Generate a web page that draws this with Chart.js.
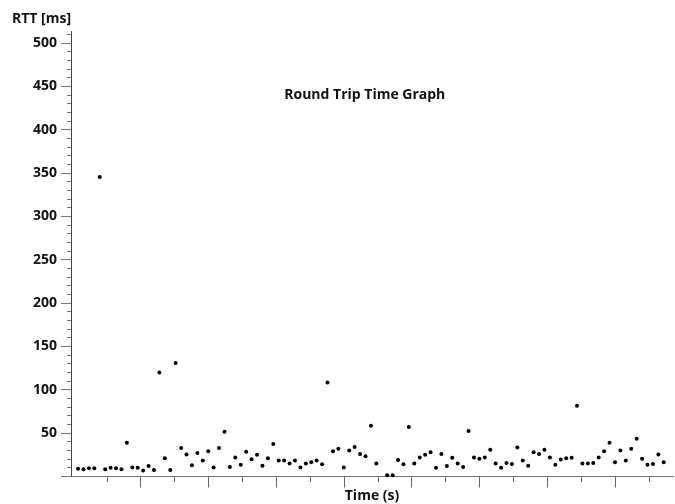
<!DOCTYPE html>
<html lang="en">
<head>
    <meta charset="UTF-8">
    <title>Round Trip Time Graph</title>
    <script src="https://cdn.jsdelivr.net/npm/chart.js@4.4.0/dist/chart.umd.min.js"></script>
    <style>
        html, body { margin: 0; padding: 0; background: #fff; }
        .chart-box { width: 675px; height: 504px; position: relative; }
    </style>
</head>
<body>
<div class="chart-box">
    <canvas id="rttChart"></canvas>
</div>

<script>
// RTT samples in ms, one per probe (null = no reply)
const rttValues = [
    9, 8.5, 9.5, 9.5, 345.5, 8.5, 10, 9.5, 8.5, 39,
    10.5, 10, 7, 12, 7.5, 120, 21, 7.5, 131, 33,
    25.5, 13, 27, 18.5, 29, 10.5, 33, 51.5, 11, 22,
    13.5, 28.5, 20, 25, 12.5, 21, 37.5, 18.5, 18.5, 15,
    18.5, 10.5, 15, 16.5, 18.5, 14, 108.5, 29, 32, 10.5,
    30, 34, 26, 23.5, 58.5, 15, null, 1.5, 1.5, 19,
    14, 57, 15, 22, 25, 28, 10, 26, 12, 21.5,
    15, 11, 52.5, 22, 20.5, 22, 31, 15, 10, 15.5,
    14.5, 33.5, 18.5, 12.5, 28, 26, 31, 22, 13.5, 19.5,
    21, 21.5, 81.5, 15, 15, 15.5, 22, 29, 39, 16.5,
    30, 18.5, 32, 43.5, 20.5, 13.5, 14.5, 25.5, 16.5
];

// unlabeled time ticks (in sample units), short and long alternate
const xTickValues = [5.34, 11.59, 17.84, 24.08, 30.33, 36.58, 42.83, 49.08, 55.32,
    61.57, 67.82, 74.07, 80.32, 86.56, 92.81, 99.06, 105.31];
const yLabelEvery = 50;

const points = rttValues.map((v, i) => ({ x: i, y: v }));
const fontFamily = "'Open Sans', 'DejaVu Sans', sans-serif";

// title drawn inside the plot area
const innerTitle = {
    id: 'innerTitle',
    afterDraw(chart) {
        const { ctx, chartArea } = chart;
        ctx.save();
        ctx.font = "bold 14px " + fontFamily;
        ctx.fillStyle = '#111';
        ctx.textAlign = 'center';
        ctx.textBaseline = 'middle';
        ctx.fillText('Round Trip Time Graph', chartArea.left + chartArea.width * 0.488, chartArea.top + 63);
        ctx.restore();
    }
};

new Chart(document.getElementById('rttChart'), {
    type: 'scatter',
    data: {
        datasets: [{
            label: 'RTT',
            data: points,
            pointRadius: 2,
            pointHoverRadius: 2,
            pointBackgroundColor: '#000',
            pointBorderWidth: 0,
            showLine: false,
            clip: false
        }]
    },
    options: {
        responsive: true,
        maintainAspectRatio: false,
        animation: false,
        layout: { padding: { left: 12, right: 1, top: 0, bottom: 0 } },
        plugins: {
            legend: { display: false },
            tooltip: { enabled: false },
            title: {
                display: true,
                text: 'RTT [ms]',
                align: 'start',
                color: '#111',
                font: { family: fontFamily, size: 14, weight: 'bold' },
                padding: { top: 11, bottom: 4 }
            }
        },
        scales: {
            x: {
                type: 'linear',
                min: -1.3,
                max: 109.7,
                afterBuildTicks: s => { s.ticks = xTickValues.map(v => ({ value: v })); },
                afterFit: s => { s.height = 27.5; },
                ticks: { display: false },
                grid: {
                    drawOnChartArea: false,
                    tickLength: 11,
                    tickColor: '#666',
                    tickBorderDash: c => (c.index % 2 === 0 ? [5, 20] : [])
                },
                border: { color: '#777', width: 1 },
                title: {
                    display: true,
                    text: 'Time (s)',
                    color: '#111',
                    font: { family: fontFamily, size: 14, weight: 'bold' },
                    padding: { top: 0, bottom: 0 }
                }
            },
            y: {
                min: 0,
                max: 513,
                afterFit: s => { s.width = 59; },
                ticks: {
                    stepSize: 10,
                    autoSkip: false,
                    includeBounds: false,
                    padding: 4,
                    color: '#111',
                    font: { family: fontFamily, size: 14, weight: 'bold' },
                    callback: v => (v > 0 && v % yLabelEvery === 0 ? v : '')
                },
                grid: {
                    drawOnChartArea: false,
                    tickLength: 10,
                    tickColor: '#777',
                    tickBorderDash: c => (c.tick && c.tick.value % yLabelEvery !== 0 ? [0, 6, 4, 0] : [])
                },
                border: { color: '#444', width: 1 }
            }
        }
    },
    plugins: [innerTitle]
});
</script>
</body>
</html>
